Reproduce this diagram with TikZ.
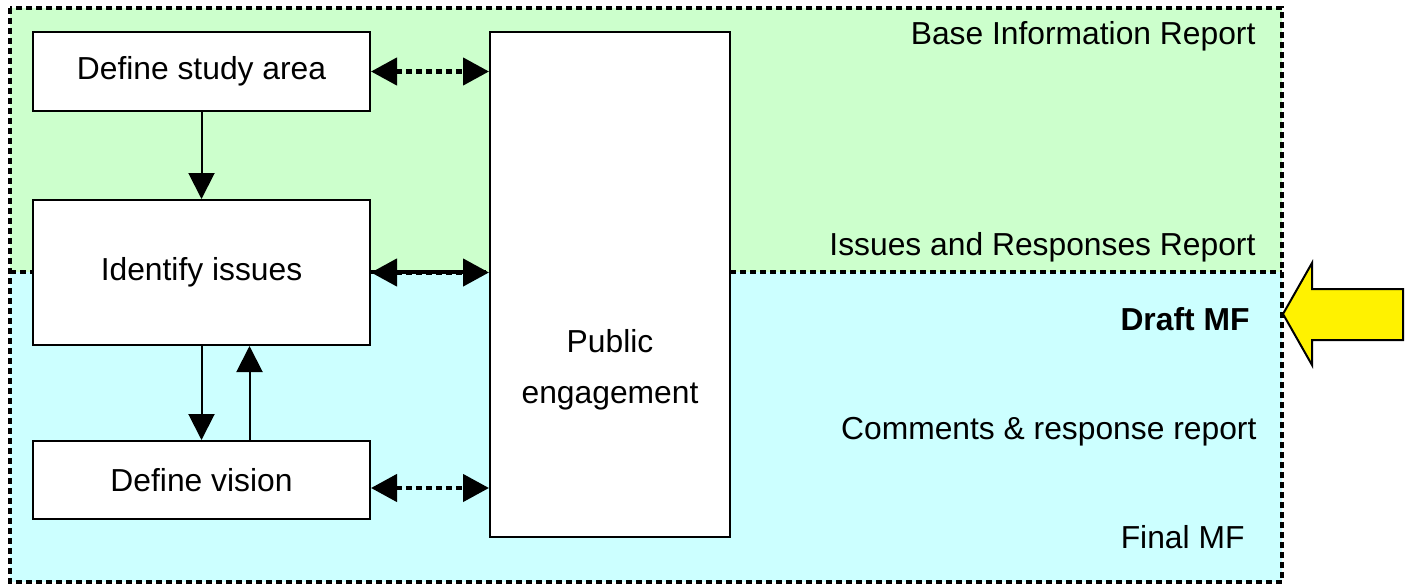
\documentclass[tikz,border=0pt]{standalone}
\usepackage{fontspec}
\setmainfont{Liberation Sans}
\usepackage{tikz}
\usetikzlibrary{arrows.meta}

\definecolor{basegreen}{HTML}{CCFFCC}
\definecolor{draftcyan}{HTML}{CCFFFF}

\tikzset{
	step box/.style={draw=black, line width=2pt, fill=white, minimum width=337pt},
	arr/.style={-{Triangle[length=26pt,width=26pt]}, line width=2pt},
	darr/.style={{Triangle[length=26pt,width=27pt]}-{Triangle[length=26pt,width=27pt]}, line width=4.5pt, dash pattern=on 6pt off 4pt},
	stage border/.style={line width=4.5pt, dash pattern=on 6pt off 4pt},
	report/.style={anchor=base east}
}

\begin{document}
\begin{tikzpicture}[x=1pt, y=-1pt, font=\fontsize{31.8}{38}\selectfont]
		\useasboundingbox (0,0) rectangle (1408,586);
		% STAGE AREAS
		\fill [basegreen] (10,8) rectangle (1282,272);
		\fill [draftcyan] (10,272) rectangle (1282,582);
		\draw [stage border] (10,272) -- (1282,272);
		\draw [stage border] (10,8) rectangle (1282,582);
		% STEPS
		\node [step box, minimum height=79pt] (study) at (201.5,71.5) {Define study area};
		\node [step box, minimum height=145pt] (issues) at (201.5,272.5) {Identify issues};
		\node [step box, minimum height=78pt] (vision) at (201.5,480) {Define vision};
		\node [draw=black, line width=2pt, fill=white, minimum width=240pt, minimum height=505pt] (public) at (610,284.5) {};
		\node [align=center, font=\fontsize{31.8}{51}\selectfont] (publictext) at (610,369.5) {Public\\engagement};
		% ARROWS
		\draw [arr] (study) -- (issues);
		\draw [arr] (issues) -- (vision);
		\draw [arr] ([xshift=48pt]vision.north) -- ([xshift=48pt]issues.south);
		\draw [darr] (study.east) -- (study.east -| public.west);
		\draw [darr] (issues.east) -- (issues.east -| public.west);
		\draw [darr] ([yshift=-8pt]vision.east) -- ([yshift=-8pt]vision.east -| public.west);
		% REPORTS
		\node [report] (baseinfo) at (1259,45) {Base Information Report};
		\node [report] (issuesrep) at (1259,255) {Issues and Responses Report};
		\node [report, font=\fontsize{31.8}{38}\selectfont\bfseries] (draft) at (1253,330) {Draft MF};
		\node [report] (comments) at (1260,439) {Comments \& response report};
		\node [report] (final) at (1248,548) {Final MF};
		% YELLOW POINTER
		\draw [line width=2pt, fill=yellow] (1283,314) -- (1312,263) -- (1312,289) -- (1403,289) -- (1403,340) -- (1312,340) -- (1312,365) -- cycle;
\end{tikzpicture}
\end{document}
